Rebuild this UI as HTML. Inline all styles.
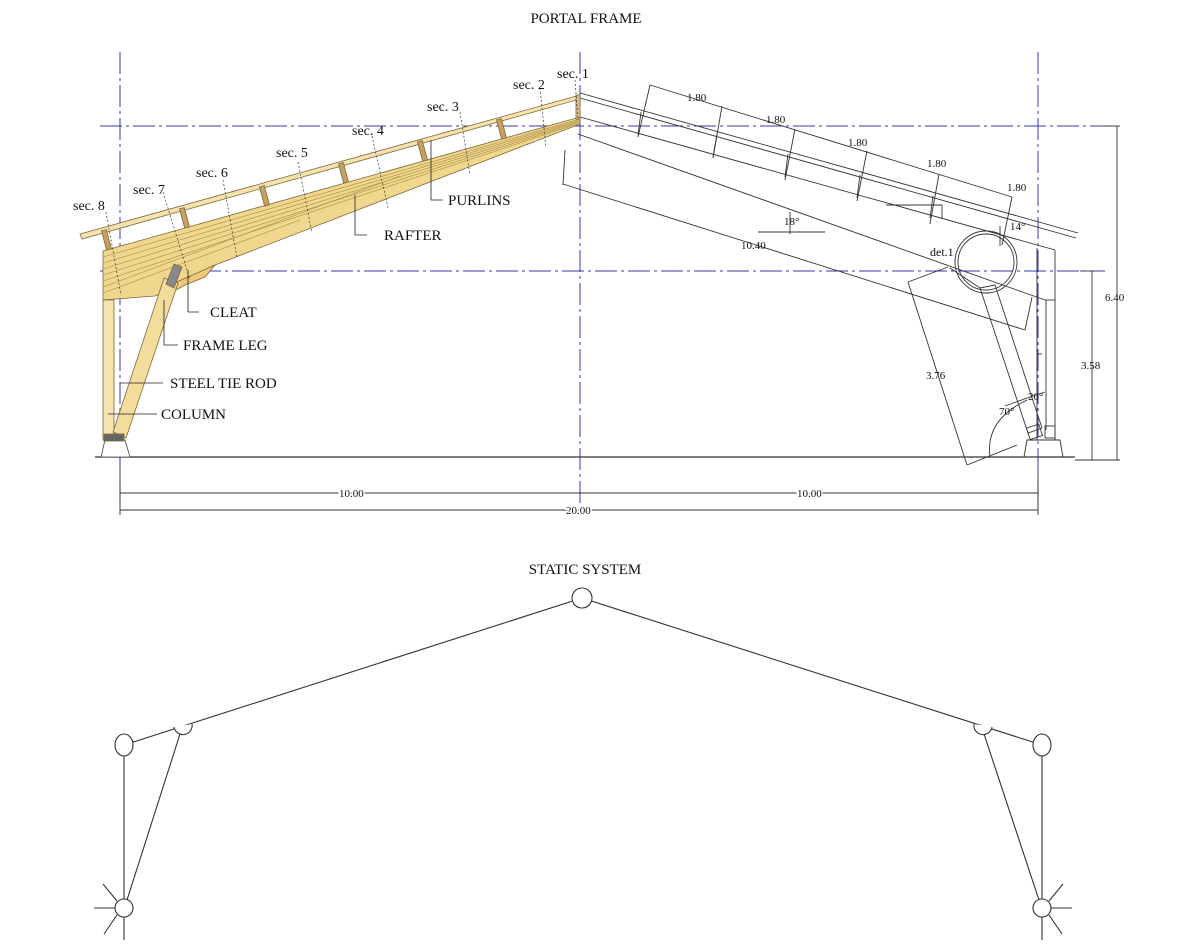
<!DOCTYPE html>
<html><head><meta charset="utf-8"><style>
html,body{margin:0;padding:0;background:#fff;}
svg{display:block;}
text{font-family:"Liberation Serif",serif;fill:#111;}
</style></head><body>
<svg width="1200" height="944" viewBox="0 0 1200 944" xmlns="http://www.w3.org/2000/svg">
<text x="586" y="23" font-size="15" text-anchor="middle">PORTAL FRAME</text>
<text x="585" y="574" font-size="15" text-anchor="middle">STATIC SYSTEM</text>

<g stroke="#3838a8" stroke-width="1" stroke-dasharray="22,4,3,4" fill="none">
<line x1="120" y1="52" x2="120" y2="515"/>
<line x1="580" y1="52" x2="580" y2="515"/>
<line x1="1038" y1="52" x2="1038" y2="515"/>
<line x1="100" y1="126" x2="1115" y2="126"/>
<line x1="100" y1="271" x2="1105" y2="271"/>
</g>

<line x1="95" y1="457" x2="1075" y2="457" stroke="#333" stroke-width="1.2"/>

<g stroke="#7a6a3a" stroke-width="0.8">
<polygon points="103,251 580,117 580,124 210,267 195,280 155,296 103,300" fill="#f1d68e"/>
<g stroke="#a88a40" stroke-width="0.6">
<line x1="103" y1="257" x2="580" y2="119"/>
<line x1="103" y1="263" x2="580" y2="120"/>
<line x1="103" y1="269" x2="580" y2="121"/>
<line x1="103" y1="275" x2="580" y2="122"/>
<line x1="103" y1="281" x2="580" y2="123"/>
<line x1="103" y1="287" x2="400" y2="176"/>
<line x1="103" y1="293" x2="300" y2="220"/>
</g>
<polygon points="170,285 215,265 205,277 185,285 165,296" fill="#f0c878"/>
<polygon points="80,234 580,95 580,99 82,239" fill="#f5e2ad"/>
<g fill="#c8a060">
<rect x="104" y="230" width="5" height="20" transform="rotate(-15 106 240)"/>
<rect x="182" y="208" width="5" height="20" transform="rotate(-15 184 218)"/>
<rect x="262" y="186" width="5" height="20" transform="rotate(-15 264 196)"/>
<rect x="341" y="163" width="5" height="20" transform="rotate(-15 343 173)"/>
<rect x="420" y="141" width="5" height="20" transform="rotate(-15 422 151)"/>
<rect x="499" y="119" width="5" height="20" transform="rotate(-15 501 129)"/>
</g>
<rect x="576" y="95" width="4" height="24" fill="#d8c090"/>
<rect x="103" y="300" width="11" height="140" fill="#f5e3b0"/>
<polygon points="113,432 164,278 178,283 126,438" fill="#f3dc9c"/>
<polygon points="166,284 174,264 182,267 174,288" fill="#888"/>
<polygon points="101,457 105,440 125,440 130,457" fill="#fff" stroke="#444"/>
<rect x="104" y="434" width="20" height="7" fill="#666"/>
</g>

<g stroke="#333" stroke-width="0.7" stroke-dasharray="2,2">
<line x1="106" y1="212" x2="121" y2="295"/>
<line x1="163" y1="192" x2="190" y2="280"/>
<line x1="223" y1="180" x2="237" y2="258"/>
<line x1="298" y1="162" x2="312" y2="233"/>
<line x1="372" y1="136" x2="388" y2="208"/>
<line x1="460" y1="112" x2="470" y2="175"/>
<line x1="540" y1="88" x2="546" y2="148"/>
<line x1="575" y1="80" x2="578" y2="118"/>
</g>
<g font-size="14">
<text x="73" y="210">sec. 8</text>
<text x="133" y="194">sec. 7</text>
<text x="196" y="177">sec. 6</text>
<text x="276" y="157">sec. 5</text>
<text x="352" y="135">sec. 4</text>
<text x="427" y="111">sec. 3</text>
<text x="513" y="89">sec. 2</text>
<text x="557" y="78">sec. 1</text>
</g>
<g stroke="#222" stroke-width="0.8" fill="none">
<polyline points="431,140 431,200 443,200"/>
<polyline points="355,195 355,235 367,235"/>
<polyline points="188,270 188,312 199,312"/>
<polyline points="164,300 164,345 178,345"/>
<line x1="120" y1="383" x2="163" y2="383"/>
<line x1="108" y1="414" x2="157" y2="414"/>
</g>
<g font-size="15">
<text x="448" y="205">PURLINS</text>
<text x="384" y="240">RAFTER</text>
<text x="210" y="317">CLEAT</text>
<text x="183" y="350">FRAME LEG</text>
<text x="170" y="388">STEEL TIE ROD</text>
<text x="161" y="419">COLUMN</text>
</g>

<g stroke="#333" stroke-width="0.9" fill="none">
<line x1="580" y1="93" x2="1078" y2="233"/>
<line x1="580" y1="98" x2="1076" y2="238"/>
<line x1="580" y1="117" x2="1055" y2="250"/>
<line x1="578" y1="134" x2="1045" y2="300"/>
<line x1="1045" y1="300" x2="1055" y2="300"/>
<line x1="1055" y1="250" x2="1055" y2="440"/>
<line x1="1037" y1="248" x2="1037" y2="440"/>
<line x1="1046" y1="300" x2="1046" y2="430"/>
<line x1="1037" y1="354" x2="1042" y2="354"/>
<line x1="641" y1="112" x2="638" y2="135"/>
<line x1="717" y1="134" x2="713" y2="157"/>
<line x1="788" y1="154" x2="785" y2="177"/>
<line x1="860" y1="175" x2="857" y2="198"/>
<line x1="933" y1="196" x2="930" y2="218"/>
<line x1="1000" y1="226" x2="1000" y2="246"/>
<!-- leg -->
<polygon points="980,288 995,285 1042,428 1028,433"/>
<line x1="980" y1="288" x2="950" y2="268"/>
<rect x="1028" y="426" width="13" height="12" transform="rotate(-18 1034 432)"/>
<rect x="1045" y="426" width="10" height="12"/>
<polygon points="1024,457 1027,440 1060,440 1063,457"/>
<circle cx="986" cy="262" r="31"/>
<circle cx="986" cy="262" r="28"/>
<line x1="650" y1="85" x2="1012" y2="197"/>
<line x1="650" y1="85" x2="638" y2="137"/>
<line x1="722" y1="106" x2="713" y2="158"/>
<line x1="795" y1="129" x2="785" y2="180"/>
<line x1="867" y1="151" x2="857" y2="201"/>
<line x1="939" y1="174" x2="930" y2="224"/>
<line x1="1012" y1="197" x2="1002" y2="245"/>
<!-- 10.40 -->
<line x1="563" y1="184" x2="1025" y2="330"/>
<line x1="565" y1="150" x2="563" y2="185"/>
<line x1="1032" y1="297" x2="1025" y2="330"/>
<line x1="758" y1="232" x2="825" y2="232"/>
<line x1="790" y1="212" x2="790" y2="234"/>
<line x1="886" y1="205" x2="942" y2="205"/>
<line x1="942" y1="205" x2="942" y2="219"/>
<!-- 3.76 -->
<line x1="908" y1="282" x2="967" y2="465"/>
<line x1="908" y1="282" x2="948" y2="267"/>
<line x1="967" y1="465" x2="1017" y2="445"/>
<path d="M 990 457 Q 985 420 1027 400"/>
<line x1="1005" y1="406" x2="1030" y2="397"/>
<line x1="1030" y1="397" x2="1045" y2="392"/>
<line x1="1117" y1="126" x2="1117" y2="460"/>
<line x1="1092" y1="271" x2="1092" y2="460"/>
<line x1="1104" y1="126" x2="1120" y2="126"/>
<line x1="1080" y1="271" x2="1095" y2="271"/>
<line x1="1075" y1="460" x2="1120" y2="460"/>
<line x1="120" y1="493" x2="1038" y2="493"/>
<line x1="120" y1="510" x2="1038" y2="510"/>
<line x1="120" y1="470" x2="120" y2="515"/>
<line x1="1038" y1="470" x2="1038" y2="515"/>
</g>
<g font-size="11">
<text x="687" y="101">1.80</text>
<text x="766" y="123">1.80</text>
<text x="848" y="146">1.80</text>
<text x="927" y="167">1.80</text>
<text x="1007" y="191">1.80</text>
<text x="741" y="249">10.40</text>
<text x="784" y="225">18°</text>
<text x="1010" y="230">14°</text>
<text x="926" y="379">3.76</text>
<text x="999" y="415">70°</text>
<text x="1028" y="400">20°</text>
<text x="1105" y="301">6.40</text>
<text x="1081" y="369">3.58</text>
<text x="339" y="497" style="paint-order:stroke" stroke="#fff" stroke-width="3">10.00</text>
<text x="797" y="497" style="paint-order:stroke" stroke="#fff" stroke-width="3">10.00</text>
<text x="566" y="514" style="paint-order:stroke" stroke="#fff" stroke-width="3">20.00</text>
</g>
<text x="930" y="256" font-size="12" font-family="Liberation Sans, sans-serif">det.1</text>

<g stroke="#333" stroke-width="1.1" fill="#fff">
<line x1="124" y1="745" x2="582" y2="598"/>
<line x1="1042" y1="745" x2="582" y2="598"/>
<line x1="124" y1="755" x2="124" y2="899"/>
<line x1="1042" y1="755" x2="1042" y2="899"/>
<line x1="180" y1="734" x2="127" y2="900"/>
<line x1="984" y1="734" x2="1039" y2="900"/>
<line x1="94" y1="908" x2="115" y2="908"/>
<line x1="103" y1="884" x2="117" y2="901"/>
<line x1="104" y1="934" x2="117" y2="915"/>
<line x1="124" y1="917" x2="124" y2="940"/>
<line x1="1072" y1="908" x2="1051" y2="908"/>
<line x1="1063" y1="884" x2="1049" y2="901"/>
<line x1="1062" y1="934" x2="1049" y2="915"/>
<line x1="1042" y1="917" x2="1042" y2="940"/>
<path d="M 174 727 A 9 9 0 0 0 192 724"/>
<path d="M 974 724 A 9 9 0 0 0 992 727"/>
<ellipse cx="124" cy="745" rx="9" ry="11"/>
<ellipse cx="1042" cy="745" rx="9" ry="11"/>
<ellipse cx="582" cy="598" rx="10" ry="10"/>
<circle cx="124" cy="908" r="9"/>
<circle cx="1042" cy="908" r="9"/>
</g>
</svg>
</body></html>
